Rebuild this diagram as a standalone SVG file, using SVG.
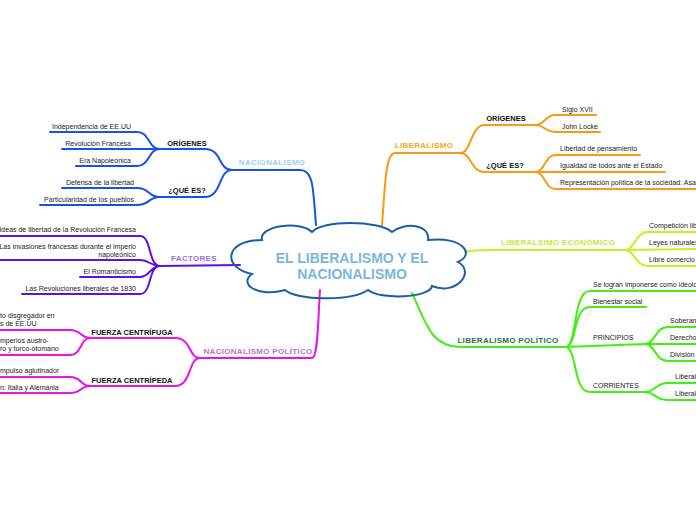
<svg xmlns="http://www.w3.org/2000/svg" width="696" height="520" viewBox="0 0 696 520">
<style>
text{font-family:"Liberation Sans",Arial,sans-serif;font-size:7px;fill:#222}
.h{font-weight:bold;font-size:7.5px;fill:#111}
.c{font-weight:bold;font-size:8px;letter-spacing:.3px}
path{fill:none;stroke-width:2;stroke-linecap:round}
.b{stroke:#1452e8}.p{stroke:#5a12e6}.m{stroke:#e614e8}.o{stroke:#f89a12}.y{stroke:#c6f022}.g{stroke:#44f014}
</style>
<rect width="696" height="520" fill="#fff"/>
<g id="connectors">
<path class="b" d="M316 225 C313 190 314 170 300 170 L232 170 M232 170 C218 170 222 149 205 149 L160 149 M232 170 C218 170 222 197 205 197 L160 197 M160 149 C148 149 150 132 137 132 L50 132 M160 149 L62 149 M160 149 C148 149 150 166 137 166 L76 166 M160 197 C148 197 150 188 137 188 L62 188 M160 197 C148 197 150 205 137 205 L40 205"/>
<path class="p" d="M240 265 L160 266 M160 266 C148 266 152 236 140 236 L0 236 M160 266 C150 266 150 260 140 260 L0 260 M160 266 C150 266 150 277 140 277 L80 277 M160 266 C148 266 152 294 140 294 L22 294"/>
<path class="m" d="M320 290 C318 320 318 358 312 358 L200 358 M200 358 C188 358 192 338 175 338 L90 338 M200 358 C188 358 192 386 175 386 L90 386 M90 338 C80 338 82 330 70 330 L0 330 M90 338 C80 338 82 355 70 355 L0 355 M90 386 C80 386 82 377 70 377 L0 377 M90 386 C80 386 82 393 70 393 L0 393"/>
<path class="o" d="M382 225 C385 190 385 153 395 153 L460 153 M460 153 C472 153 470 125 485 125 L535 125 M460 153 C472 153 470 172 485 172 L535 172 M535 125 C545 125 545 115 555 115 L596 115 M535 125 C545 125 545 132 555 132 L600 132 M535 172 C545 172 545 155 555 155 L640 155 M535 172 L665 172 M535 172 C545 172 545 189 555 189 L696 189"/>
<path class="y" d="M466 252 C470 250 480 250 490 250 L625 250 M625 250 C635 250 635 232 648 232 L696 232 M625 250 L696 249 M625 250 C635 250 635 266 648 266 L696 266"/>
<path class="g" d="M412 293 C425 320 430 347 460 347 L565 347 M565 347 C578 347 572 291 590 291 L696 291 M565 347 C578 347 572 307 590 307 L646 307 M565 347 L645 344 M565 347 C578 347 572 392 590 392 L645 392 M645 344 C655 344 655 327 668 327 L696 327 M645 344 L696 344 M645 344 C655 344 655 361 668 361 L696 361 M645 392 C655 392 655 383 668 383 L696 383 M645 392 C655 392 655 400 668 400 L696 400"/>
</g>
<g id="center">
<path d="M262 240 C258 226 300 220 312 232 C322 220 378 220 392 232 C405 222 430 224 428 240 C462 236 476 254 458 262 C476 272 456 296 432 286 C430 298 380 300 368 290 C350 302 296 300 285 290 C258 298 238 284 252 274 C222 268 224 240 262 240 Z" fill="#fff" stroke="#1a5ea8" stroke-width="2"/>
<text x="352" y="263" text-anchor="middle" style="font-size:14px;font-weight:bold;fill:#7bb6dc">EL LIBERALISMO Y EL</text>
<text x="352" y="279" text-anchor="middle" style="font-size:14px;font-weight:bold;fill:#7bb6dc">NACIONALISMO</text>
</g>
<g id="nacionalismo">
<text class="c" x="272" y="165" text-anchor="middle" fill="#a8cde8" style="fill:#a8cde8">NACIONALISMO</text>
<text class="h" x="187" y="146" text-anchor="middle">ORÍGENES</text>
<text class="h" x="187" y="193" text-anchor="middle">¿QUÉ ES?</text>
<text x="131" y="129" text-anchor="end">Independencia de EE.UU</text>
<text x="131" y="146" text-anchor="end">Revolución Francesa</text>
<text x="131" y="163" text-anchor="end">Era Napoleónica</text>
<text x="134" y="185" text-anchor="end">Defensa de la libertad</text>
<text x="134" y="202" text-anchor="end">Particularidad de los pueblos</text>
</g>
<g id="factores">
<text class="c" x="194" y="261" text-anchor="middle" style="fill:#a06ed0">FACTORES</text>
<text x="136" y="232" text-anchor="end">Ideas de libertad de la Revolución Francesa</text>
<text x="136" y="249" text-anchor="end">Las invasiones francesas durante el imperio</text>
<text x="136" y="257" text-anchor="end">napoleónico</text>
<text x="136" y="274" text-anchor="end">El Romanticismo</text>
<text x="136" y="291" text-anchor="end">Las Revoluciones liberales de 1830</text>
</g>
<g id="nacionalismo-politico">
<text class="c" x="258" y="354" text-anchor="middle" style="fill:#c070d0">NACIONALISMO POLÍTICO</text>
<text class="h" x="132" y="335" text-anchor="middle">FUERZA CENTRÍFUGA</text>
<text class="h" x="132" y="383" text-anchor="middle">FUERZA CENTRÍPEDA</text>
<text x="0" y="318">to disgregador en</text>
<text x="0" y="326">s de EE.UU</text>
<text x="0" y="343">mperios austro-</text>
<text x="0" y="351">ro y turco-otomano</text>
<text x="0" y="373">mpulso aglutinador</text>
<text x="0" y="390">n: Italia y Alemania</text>
</g>
<g id="liberalismo">
<text class="c" x="424" y="148" text-anchor="middle" style="fill:#f8a820">LIBERALISMO</text>
<text class="h" x="506" y="121" text-anchor="middle">ORÍGENES</text>
<text class="h" x="505" y="168" text-anchor="middle">¿QUÉ ES?</text>
<text x="562" y="112">Siglo XVII</text>
<text x="562" y="129">John Locke</text>
<text x="560" y="151">Libertad de pensamiento</text>
<text x="560" y="168">Igualdad de todos ante el Estado</text>
<text x="560" y="185">Representación política de la sociedad: Asamblea</text>
</g>
<g id="liberalismo-economico">
<text class="c" x="558" y="245" text-anchor="middle" style="fill:#c8e640">LIBERALSIMO ECONÓMICO</text>
<text x="649" y="228">Competición libre</text>
<text x="649" y="245">Leyes naturales</text>
<text x="649" y="262">Libre comercio</text>
</g>
<g id="liberalismo-politico">
<text class="c" x="508" y="343" text-anchor="middle" style="fill:#207a40">LIBERALISMO POLÍTICO</text>
<text x="593" y="287">Se logran imponerse como ideología</text>
<text x="593" y="304">Bienestar social</text>
<text x="593" y="340">PRINCIPIOS</text>
<text x="593" y="388">CORRIENTES</text>
<text x="670" y="323">Soberanía</text>
<text x="670" y="340">Derechos</text>
<text x="670" y="357">División</text>
<text x="675" y="379">Liberalismo</text>
<text x="675" y="396">Liberalismo</text>
</g>
</svg>
